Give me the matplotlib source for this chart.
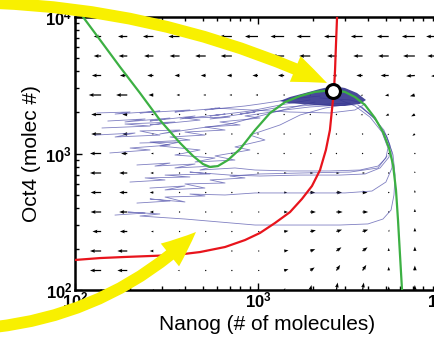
import numpy as np
import matplotlib

matplotlib.use("Agg")
import matplotlib.pyplot as plt

plt.rcParams["font.family"] = ["Liberation Sans", "DejaVu Sans"]
plt.rcParams["mathtext.fontset"] = "custom"
plt.rcParams["mathtext.rm"] = "Liberation Sans"
plt.rcParams["mathtext.bf"] = "Liberation Sans:bold"

# all coordinates are log10(molecules)
X_LIM = (2.0, 4.1)
Y_LIM = (2.0, 4.0)
MAJOR = [2, 3, 4]
TICK_LABELS = [r"$\mathbf{10^{2}}$", r"$\mathbf{10^{3}}$", r"$\mathbf{10^{4}}$"]

# red nullcline
RED_X = [2.000, 2.137, 2.273, 2.410, 2.546, 2.683, 2.820, 2.929, 3.011, 3.093, 3.175, 3.240, 3.295,
         3.339, 3.371, 3.393, 3.404, 3.415, 3.421, 3.426, 3.432]
RED_Y = [2.220, 2.234, 2.242, 2.249, 2.256, 2.278, 2.315, 2.366, 2.418, 2.491, 2.571, 2.667, 2.762,
         2.879, 3.026, 3.172, 3.319, 3.458, 3.612, 3.795, 4.000]

# green nullcline
GREEN_X = [2.044, 2.137, 2.246, 2.355, 2.464, 2.574, 2.645, 2.699, 2.738, 2.781, 2.836, 2.902, 2.984,
           3.066, 3.148, 3.230, 3.311, 3.410, 3.475, 3.530, 3.585, 3.639, 3.683, 3.716, 3.738, 3.754,
           3.765, 3.776, 3.787]
GREEN_Y = [4.000, 3.832, 3.634, 3.443, 3.245, 3.077, 2.982, 2.923, 2.901, 2.908, 2.952, 3.033, 3.172,
           3.297, 3.377, 3.421, 3.451, 3.465, 3.451, 3.414, 3.355, 3.260, 3.157, 3.040, 2.916, 2.733,
           2.513, 2.256, 2.000]

# stable fixed point
FIXED_X = 3.410
FIXED_Y = 3.458

# dense cloud of trajectories around the fixed point
BLOB_X = [3.120, 3.175, 3.257, 3.339, 3.410, 3.475, 3.541, 3.590, 3.557, 3.475, 3.393, 3.311, 3.230, 3.164]
BLOB_Y = [3.385, 3.414, 3.443, 3.473, 3.494, 3.480, 3.443, 3.392, 3.363, 3.348, 3.348, 3.355, 3.363, 3.370]

# stochastic trajectories
TRAJ_1_X = [2.120, 2.301, 2.219, 2.464, 2.355, 2.628, 2.546, 2.792, 2.710, 2.929, 3.011, 3.120, 3.230, 3.339]
TRAJ_1_Y = [3.297, 3.304, 3.289, 3.311, 3.297, 3.319, 3.304, 3.333, 3.319, 3.348, 3.363, 3.385, 3.407, 3.421]
TRAJ_2_X = [2.148, 2.410, 2.273, 2.546, 2.410, 2.683, 2.601, 2.847, 2.738, 2.984, 2.902, 3.093, 3.230, 3.393, 3.503]
TRAJ_2_Y = [3.187, 3.201, 3.216, 3.231, 3.209, 3.245, 3.260, 3.267, 3.253, 3.304, 3.289, 3.333, 3.348, 3.363, 3.370]
TRAJ_3_X = [2.191, 2.410, 2.301, 2.519, 2.410, 2.628, 2.519, 2.710, 2.601, 2.820, 2.710, 2.902, 2.792,
            3.011, 2.929, 3.148, 3.284, 3.448]
TRAJ_3_Y = [3.004, 3.026, 3.040, 3.062, 3.084, 3.099, 3.121, 3.135, 3.157, 3.172, 3.194, 3.209, 3.231,
            3.260, 3.275, 3.319, 3.341, 3.355]
TRAJ_4_X = [2.355, 2.574, 2.464, 2.683, 2.546, 2.765, 2.656, 2.874, 2.765, 2.956, 2.874, 3.038, 2.956,
            3.120, 3.230, 3.366, 3.503]
TRAJ_4_Y = [3.077, 3.084, 3.055, 3.026, 2.989, 2.967, 2.938, 2.952, 2.982, 3.026, 3.048, 3.099, 3.135,
            3.209, 3.282, 3.333, 3.363]
TRAJ_5_X = [2.339, 2.519, 2.437, 2.656, 2.546, 2.765, 2.683, 2.874, 2.984, 3.175, 3.393, 3.557, 3.656,
            3.699, 3.710, 3.677, 3.612, 3.530, 3.448]
TRAJ_5_Y = [2.916, 2.930, 2.908, 2.923, 2.894, 2.908, 2.879, 2.894, 2.879, 2.872, 2.872, 2.879, 2.908,
            2.967, 3.040, 3.157, 3.267, 3.348, 3.392]
TRAJ_6_X = [2.301, 2.492, 2.383, 2.628, 2.492, 2.738, 2.628, 2.847, 3.011, 3.230, 3.448, 3.585, 3.667,
            3.716, 3.721, 3.688, 3.623, 3.546]
TRAJ_6_Y = [2.791, 2.806, 2.821, 2.828, 2.842, 2.850, 2.864, 2.842, 2.835, 2.842, 2.842, 2.850, 2.894,
            2.974, 3.062, 3.172, 3.275, 3.355]
TRAJ_7_X = [2.339, 2.519, 2.410, 2.601, 2.492, 2.710, 2.628, 2.820, 2.984, 3.230, 3.475, 3.623, 3.699,
            3.732, 3.732, 3.699, 3.634, 3.557]
TRAJ_7_Y = [2.637, 2.652, 2.667, 2.645, 2.681, 2.689, 2.703, 2.696, 2.711, 2.711, 2.711, 2.725, 2.791,
            2.894, 3.011, 3.135, 3.260, 3.348]
TRAJ_8_X = [2.219, 2.383, 2.290, 2.464, 2.355, 2.601, 2.792, 2.984, 3.230, 3.448, 3.601, 3.683, 3.727,
            3.743, 3.749, 3.738, 3.705, 3.645, 3.568]
TRAJ_8_Y = [2.549, 2.564, 2.571, 2.557, 2.542, 2.520, 2.498, 2.476, 2.476, 2.476, 2.484, 2.520, 2.586,
            2.696, 2.842, 2.989, 3.121, 3.245, 3.341]
TRAJ_9_X = [2.765, 2.956, 3.175, 3.393, 3.530, 3.585, 3.503, 3.339]
TRAJ_9_Y = [3.333, 3.319, 3.304, 3.297, 3.319, 3.363, 3.392, 3.407]
TRAJ_10_X = [2.109, 2.328, 2.219, 2.464, 2.355, 2.574, 2.464, 2.683, 2.847, 3.011, 3.175, 3.311]
TRAJ_10_Y = [3.135, 3.150, 3.121, 3.135, 3.165, 3.172, 3.143, 3.187, 3.216, 3.275, 3.333, 3.377]
TRAJ_11_X = [2.180, 2.383, 2.273, 2.519, 2.410, 2.656, 2.574, 2.820, 2.738, 2.956, 3.120, 3.284]
TRAJ_11_Y = [3.238, 3.253, 3.231, 3.260, 3.238, 3.275, 3.253, 3.289, 3.275, 3.311, 3.355, 3.392]
TRAJ_12_X = [2.410, 2.601, 2.492, 2.710, 2.601, 2.820, 2.738, 2.929, 2.847, 3.011, 3.230, 3.503, 3.656, 3.705]
TRAJ_12_Y = [2.747, 2.762, 2.733, 2.747, 2.777, 2.784, 2.806, 2.821, 2.835, 2.850, 2.857, 2.864, 2.894, 2.982]

TRAJECTORIES = [
    (TRAJ_1_X, TRAJ_1_Y), (TRAJ_2_X, TRAJ_2_Y), (TRAJ_3_X, TRAJ_3_Y), (TRAJ_4_X, TRAJ_4_Y),
    (TRAJ_5_X, TRAJ_5_Y), (TRAJ_6_X, TRAJ_6_Y), (TRAJ_7_X, TRAJ_7_Y), (TRAJ_8_X, TRAJ_8_Y),
    (TRAJ_9_X, TRAJ_9_Y), (TRAJ_10_X, TRAJ_10_Y), (TRAJ_11_X, TRAJ_11_Y), (TRAJ_12_X, TRAJ_12_Y),
]

# flow field on a grid of 1/7 decade, read as arrow lengths (rows top -> bottom)
GRID_X = [2 + k / 7 for k in range(15)]
GRID_Y = [2 + j / 7 for j in range(14)]
FLOW_U = [
    [-20, -12, -15, -17, -18, -19, -20, -21, -22, -22, -20, -19, -19, -21, -24],
    [-20, -12, -14, -15, -16, -17, -18, -18, -20, -18, -15, -15, -17, -19, -22],
    [-20, -15, -12, -10, -8, -8, -8, -9, -10, -8, -6, -10, -13, -14, -16],
    [-20, -20, -18, -8, -5, -4, -4, -4, -2, -1, 0, -3, -6, -8, -10],
    [-18, -16, -8, -4, -2, -2, -2, -1, -1, -1, -1, -3, -5, -6, -8],
    [-18, -16, -8, -3, -2, -1, -1, 0.5, 1, 1, 1, -1, -2, -4, -5],
    [-20, -18, -10, -4, -2, -1, 0.5, 1, 2, 3, 2, 1, -1, -1, -2],
    [-18, -18, -13, -5, -2, -1, 1, 2, 4, 5, 5, 4, 0.5, 0, 0],
    [-17, -17, -13, -6, -2, -1, 1, 3, 5, 8, 9, 8, 1, 0, 0],
    [-17, -17, -13, -6, -2, -1, 1, 3, 6, 9, 10, 9, 1, 0, 0],
    [-14, -14, -12, -4, -2, -1, 1, 3, 7, 9, 9, 9, 1, 0, 0],
    [-18, -18, -16, -6, -3, -1, 1, 3, 7, 8, 8, 8, 0, 0, 0],
    [-18, -18, -16, -6, -3, -1, 1, 3, 7, 7, 6, 6, 0, 0, 0],
    [0, 0, 0, 0, 0, 0, 0, 0, 2, 2, 2, 2, 0, 0, 0],
]
FLOW_V = [
    [0, 0, 0, 0, 0, 0, 0, 0, 0, 0, 0, 0, 0, 0, 0],
    [0, 0, 0, 0, 0, 0, 0, 0, 0, 0, 0, 0, 0, 0, 0],
    [0, 0, 0, 0, 0, 0, 0, 0, 0, 0, 0, 0, 0, -1, -1],
    [0, 0, 0, 0, 0, 0, 0, 0, 0, 0, 0, -1, -1, -2, -2],
    [0, 0, 0, 0, 0, 0, 0, 0, 0, 0, 0, -1, -2, -3, -3],
    [0, 0, 0, 0, 0, 0, 0, 0, 0, 0, 0, -1, -2, -3, -4],
    [0, 0, 0, 0, 0, 0, 0, 0, 0, 0, 0, 0, -1, -2, -2],
    [0, 0, 0, 0, 0, 0, 0, 0, 0, 0, 0, 0, 1, 3, 3],
    [0, 0, 0, 0, 0, 0, 0, 0, 0, 0, 0, 0, 1, 4, 4],
    [0, 0, 0, 0, 0, 0, 0, 0, 0, 0, 0, 0, 2, 5, 5],
    [0, 0, 0, 0, 0, 0, 0, 0, 1, 2, 3, 3, 3, 6, 6],
    [0, 0, 0, 0, 0, 0, 0, 0, 1, 3, 6, 6, 5, 7, 7],
    [0, 0, 0, 0, 0, 0, 0, 0, 2, 5, 9, 9, 6, 8, 8],
    [0, 0, 0, 0, 0, 0, 0, 0, 3, 8, 12, 12, 6, 8, 8],
]

W, H, DPI = 435, 341, 100
PX_PER_DECADE_X = 183.0
PX_PER_DECADE_Y = 136.5
ARROW_SHRINK = 0.62


def main():
    fig = plt.figure(figsize=(W / DPI, H / DPI), dpi=DPI)
    ax = fig.add_axes([75 / W, 51 / H, (X_LIM[1] - X_LIM[0]) * PX_PER_DECADE_X / W, 273 / H])
    ax.set_xlim(*X_LIM)
    ax.set_ylim(*Y_LIM)

    gx, gy = np.meshgrid(GRID_X, GRID_Y)
    u = np.array(FLOW_U, dtype=float)[::-1] / PX_PER_DECADE_X * ARROW_SHRINK
    v = np.array(FLOW_V, dtype=float)[::-1] / PX_PER_DECADE_Y * ARROW_SHRINK
    ax.quiver(gx, gy, u, v, angles="xy", scale_units="xy", scale=1, pivot="tail",
              width=0.0032, headwidth=3, headlength=4, headaxislength=3.6,
              minshaft=1, minlength=1.2, color="black", zorder=2)

    for tx, ty in TRAJECTORIES:
        ax.plot(tx, ty, color="#4a4aa8", lw=0.6, alpha=0.7, zorder=3)
    ax.fill(BLOB_X, BLOB_Y, color="#34348f", alpha=0.9, lw=0, zorder=3)

    ax.plot(GREEN_X, GREEN_Y, color="#3cb043", lw=1.6, zorder=4, solid_joinstyle="round")
    ax.plot(RED_X, RED_Y, color="#e8141c", lw=1.6, zorder=5, solid_joinstyle="round")
    ax.plot([FIXED_X], [FIXED_Y], "o", ms=10, mfc="white", mec="black", mew=2.2, zorder=6)

    ax.set_xticks(MAJOR)
    ax.set_xticklabels(TICK_LABELS, fontsize=12)
    ax.set_yticks(MAJOR)
    ax.set_yticklabels(TICK_LABELS, fontsize=12)
    minor = [n + np.log10(m) for n in (2, 3) for m in range(2, 10)]
    ax.set_xticks([t for t in minor if t < X_LIM[1]], minor=True)
    ax.set_yticks(minor, minor=True)
    ax.tick_params(which="both", direction="in", top=True, right=True, width=1)
    ax.tick_params(which="major", length=5)
    ax.tick_params(which="minor", length=3)
    ax.tick_params(axis="x", which="major", pad=0.5)
    ax.tick_params(axis="y", which="major", pad=2)
    for sp in ax.spines.values():
        sp.set_linewidth(1.8)

    ax.set_xlabel("Nanog (# of molecules)", fontsize=15, labelpad=3)
    ax.set_ylabel("Oct4 (molec #)", fontsize=15, labelpad=3)

    yellow = "#f8f000"
    ax.annotate("", xy=(3.377, 3.517), xytext=(-5 / W, 1 - 3 / H), textcoords="figure fraction",
                annotation_clip=False, zorder=10,
                arrowprops=dict(arrowstyle="simple,head_length=25,head_width=20,tail_width=8.5",
                                mutation_scale=1, connectionstyle="arc3,rad=-0.1",
                                color=yellow, lw=0, shrinkA=0, shrinkB=0))
    ax.annotate("", xy=(2.661, 2.425), xytext=(-5 / W, 14 / H), textcoords="figure fraction",
                annotation_clip=False, zorder=10,
                arrowprops=dict(arrowstyle="simple,head_length=25,head_width=21,tail_width=8.5",
                                mutation_scale=1, connectionstyle="arc3,rad=0.17",
                                color=yellow, lw=0, shrinkA=0, shrinkB=0))

    fig.savefig("out.png", dpi=DPI)
    plt.close(fig)


if __name__ == "__main__":
    main()
